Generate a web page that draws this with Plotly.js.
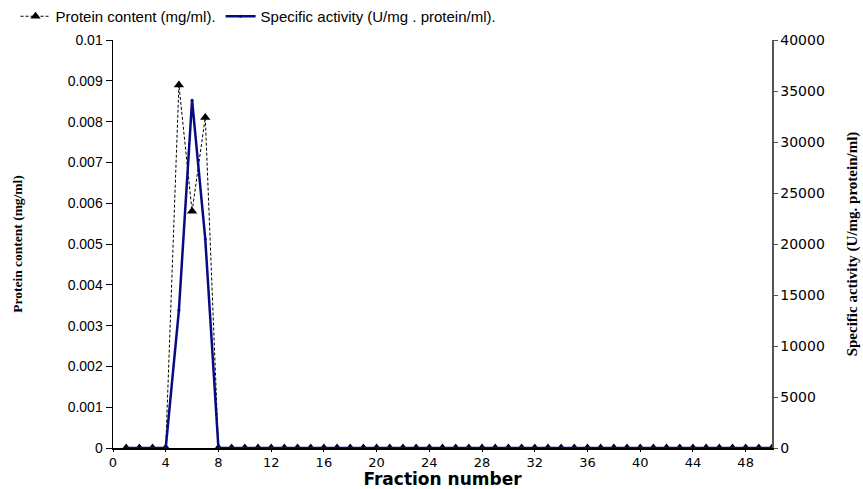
<!DOCTYPE html>
<html>
<head>
<meta charset="utf-8">
<script src="https://cdn.plot.ly/plotly-3.0.1.min.js"></script>
<style>html,body{margin:0;padding:0;background:#fff;}</style>
</head>
<body>
<div id="chart" style="width:863px;height:489px;"></div>
<script>
// Fraction numbers
const fractions = [1,2,3,4,5,6,7,8,9,10,11,12,13,14,15,16,17,18,19,20,21,22,23,24,25,26,27,28,29,30,31,32,33,34,35,36,37,38,39,40,41,42,43,44,45,46,47,48,49,50];
// Protein content (mg/ml)
const proteinContent = [0,0,0,0,0.0089,0.0058,0.0081,0,0,0,0,0,0,0,0,0,0,0,0,0,0,0,0,0,0,0,0,0,0,0,0,0,0,0,0,0,0,0,0,0,0,0,0,0,0,0,0,0,0,0];
// Specific activity (U/mg . protein/ml)
const specificActivity = [0,0,0,0,13500,34100,20500,0,0,0,0,0,0,0,0,0,0,0,0,0,0,0,0,0,0,0,0,0,0,0,0,0,0,0,0,0,0,0,0,0,0,0,0,0,0,0,0,0,0,0];

const seriesNames = ["Protein content (mg/ml).", "Specific activity (U/mg . protein/ml)."];
const leftTicks = [0,0.001,0.002,0.003,0.004,0.005,0.006,0.007,0.008,0.009,0.01];
const leftTickText = ["0","0.001","0.002","0.003","0.004","0.005","0.006","0.007","0.008","0.009","0.01"];
const rightTicks = [0,5000,10000,15000,20000,25000,30000,35000,40000];
const rightTickText = ["0","5000","10000","15000","20000","25000","30000","35000","40000"];

const traces = [
  {
    x: fractions, y: proteinContent, name: seriesNames[0],
    type: 'scatter', mode: 'lines+markers',
    line: {color: '#000000', width: 1, dash: '3px,2px'},
    marker: {symbol: 'triangle-up', size: 9, color: '#000000'},
    yaxis: 'y'
  },
  {
    x: fractions, y: specificActivity, name: seriesNames[1],
    type: 'scatter', mode: 'lines+markers',
    line: {color: '#0a0a80', width: 2.5},
    marker: {symbol: 'circle', size: 3, color: '#0a0a80'},
    yaxis: 'y2'
  }
];

const layout = {
  width: 863, height: 489,
  margin: {l: 113, r: 91, t: 40, b: 41, pad: 0},
  paper_bgcolor: '#ffffff', plot_bgcolor: '#ffffff',
  font: {family: 'Liberation Sans, Arial, sans-serif', color: '#000000', size: 14},
  showlegend: true,
  legend: {
    orientation: 'h', xref: 'container', yref: 'container',
    x: 0.018, y: 1, xanchor: 'left', yanchor: 'top',
    font: {family: 'Liberation Sans, Arial, sans-serif', size: 15, color: '#000000'},
    bgcolor: 'rgba(0,0,0,0)', tracegroupgap: 0
  },
  xaxis: {
    range: [0, 50], tickmode: 'linear', tick0: 0, dtick: 4,
    showgrid: false, zeroline: false,
    showline: true, linecolor: '#000000', linewidth: 1.5,
    ticks: 'outside', ticklen: 2, tickcolor: '#000000',
    tickfont: {family: 'DejaVu Sans, Verdana, sans-serif', size: 13, color: '#000000'},
    title: {text: 'Fraction number', standoff: 1,
      font: {family: 'DejaVu Sans, Verdana, sans-serif', size: 17, weight: 'bold', color: '#000000'}},
    automargin: false
  },
  yaxis: {
    range: [0, 0.01], tickmode: 'array', tickvals: leftTicks, ticktext: leftTickText,
    showgrid: false, zeroline: false,
    showline: true, linecolor: '#000000', linewidth: 1.5,
    ticks: 'outside', ticklen: 6, tickcolor: '#000000',
    tickfont: {family: 'Liberation Sans, Arial, sans-serif', size: 14, color: '#000000'},
    title: {text: 'Protein content (mg/ml)', standoff: 42,
      font: {family: 'Liberation Serif, Times New Roman, serif', size: 13.5, weight: 'bold', color: '#000000'}},
    automargin: false
  },
  yaxis2: {
    range: [0, 40000], tickmode: 'array', tickvals: rightTicks, ticktext: rightTickText,
    overlaying: 'y', side: 'right', anchor: 'x',
    showgrid: false, zeroline: false,
    showline: true, linecolor: '#555555', linewidth: 1.5,
    ticks: 'outside', ticklen: 4, tickcolor: '#555555',
    tickfont: {family: 'DejaVu Sans, Verdana, sans-serif', size: 14, color: '#000000'},
    title: {text: 'Specific activity (U/mg. protein/ml)', standoff: 22,
      font: {family: 'Liberation Serif, Times New Roman, serif', size: 15, weight: 'bold', color: '#000000'}},
    automargin: false
  },
  yaxis3: {
    range: [0, 40000], tickmode: 'array', tickvals: rightTicks,
    overlaying: 'y', side: 'right', anchor: 'x',
    showgrid: false, zeroline: false, showline: false,
    ticks: 'inside', ticklen: 6, tickcolor: '#555555',
    showticklabels: false
  }
};

Plotly.newPlot('chart', traces, layout, {displayModeBar: false, staticPlot: true});
</script>
</body>
</html>
